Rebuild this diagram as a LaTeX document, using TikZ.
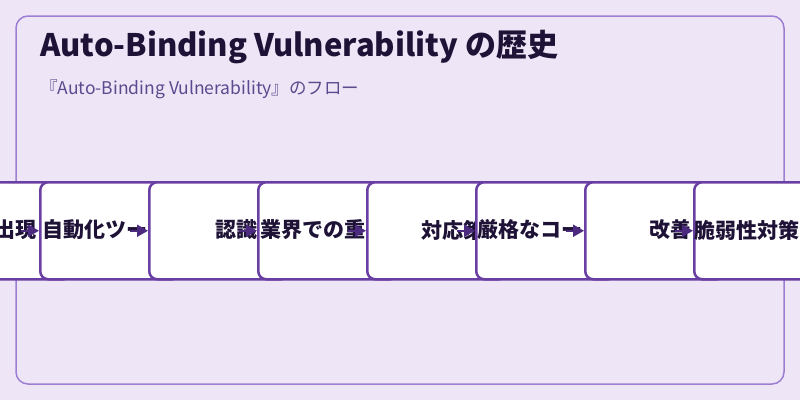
\documentclass[tikz,border=0pt]{standalone}
\usepackage{fontspec}
\setmainfont{Noto Sans CJK JP}
\usetikzlibrary{arrows.meta,calc}
\definecolor{bgc}{HTML}{EEE6F6}
\definecolor{framec}{HTML}{9C7ED2}
\definecolor{boxc}{HTML}{6A3FA3}
\definecolor{inkc}{HTML}{1E1236}
\definecolor{arrc}{HTML}{4B2A80}
\definecolor{subc}{HTML}{5B4A8E}
\tikzset{
  stepbox/.style={draw=boxc, fill=white, line width=2.5pt, rounded corners=8pt,
    minimum width=140pt, minimum height=97pt, anchor=north west, inner sep=0pt},
  steptext/.style={font=\fontsize{21}{24}\selectfont\bfseries, text=inkc, inner sep=0pt, anchor=west},
  flowarrow/.style={draw=arrc, line width=2pt, -{Triangle[length=11pt,width=12pt]}}
}
\begin{document}
\begin{tikzpicture}[x=1pt, y=-1pt]
	\useasboundingbox (0,0) rectangle (800,400);
	\fill[bgc] (0,0) rectangle (800,400);
	\draw[framec, line width=1.5pt, rounded corners=12pt] (16,16) rectangle (784,384);
	\node[anchor=west, inner sep=0pt, text=inkc, font=\fontsize{31}{35}\selectfont\bfseries] (title) at (40,47) {Auto-Binding Vulnerability の歴史};
	\node[anchor=west, inner sep=0pt, text=subc, font=\fontsize{17.5}{20}\selectfont] (subtitle) at (40,89) {『Auto-Binding Vulnerability』のフロー};
	% steps, each one laid over the one before
	\foreach \t/\xs [count=\i from 0] in {出現/-6, 自動化ツー/42, 認識/215, 業界での重/260, 対応策/421, 厳格なコー/477, 改善/649, 脆弱性対策/694} {
		\pgfmathsetmacro\xl{-70+109*\i}
		\node[stepbox] (s\i) at (\xl,181) {};
		\node[steptext] (t\i) at (\xs,230) {\t};
	}
	\foreach \i in {1,...,7} {
		\coordinate (a\i) at ($(s\i.west)+(-18,0)$);
		\draw[flowarrow] (a\i) -- (s\i.west);
	}
\end{tikzpicture}
\end{document}
